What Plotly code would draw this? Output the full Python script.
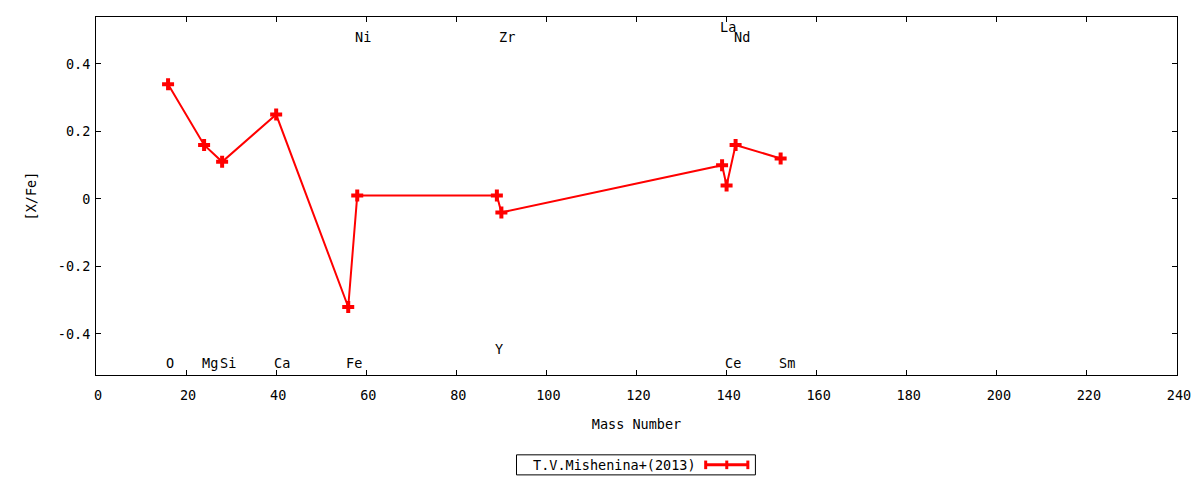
import plotly.graph_objects as go

# Abundance data (T.V.Mishenina+ 2013)
elements = ['O', 'Mg', 'Si', 'Ca', 'Fe', 'Ni', 'Y', 'Zr', 'La', 'Ce', 'Nd', 'Sm']
mass = [16, 24, 28, 40, 56, 58, 89, 90, 139, 140, 142, 152]
x_fe = [0.34, 0.16, 0.11, 0.25, -0.32, 0.01, 0.01, -0.04, 0.10, 0.04, 0.16, 0.12]

# Where each element name is written
label_y = [-0.485, -0.485, -0.485, -0.485, -0.485, 0.48, -0.445, 0.48, 0.51, -0.485, 0.48, -0.485]

mono = 'DejaVu Sans Mono'
fsize = 13.5
red = '#ff0000'

fig = go.Figure()
fig.add_trace(go.Scatter(
    x=mass, y=x_fe, mode='lines+markers', name='T.V.Mishenina+(2013)',
    line=dict(color=red, width=2),
    marker=dict(symbol='cross', size=10, color=red),
    showlegend=False))

for el, m, ly in zip(elements, mass, label_y):
    fig.add_annotation(x=m, y=ly, text=el, showarrow=False,
                       xanchor='left', xshift=-4,
                       font=dict(family=mono, size=fsize, color='black'))

# Legend box drawn by hand (gnuplot style: text, then line sample)
fig.add_shape(type='rect', xref='paper', yref='paper',
              x0=0.389, x1=0.610, y0=-0.279, y1=-0.223,
              line=dict(color='black', width=1), fillcolor='white')
fig.add_annotation(xref='paper', yref='paper', x=0.557, y=-0.251,
                   text='T.V.Mishenina+(2013)', showarrow=False,
                   xanchor='right', yanchor='middle',
                   font=dict(family=mono, size=fsize, color='black'))
fig.add_shape(type='line', xref='paper', yref='paper',
              x0=0.564, x1=0.603, y0=-0.251, y1=-0.251,
              line=dict(color=red, width=3))
for xp in (0.564, 0.5835, 0.603):
    fig.add_shape(type='line', xref='paper', yref='paper',
                  x0=xp, x1=xp, y0=-0.263, y1=-0.239,
                  line=dict(color=red, width=3))

axis_common = dict(showgrid=False, zeroline=False, showline=True, linecolor='black',
                   linewidth=1, mirror='ticks', ticks='inside', ticklen=5,
                   tickcolor='black', tickfont=dict(family=mono, size=fsize, color='black'))

fig.update_xaxes(range=[0, 240], dtick=20, ticklabelstandoff=8, ticklabelshift=2,
                 title=dict(text='Mass Number', standoff=17,
                            font=dict(family=mono, size=fsize, color='black')),
                 **axis_common)
fig.update_yaxes(range=[-0.5215, 0.539], tickvals=[-0.4, -0.2, 0, 0.2, 0.4],
                 ticktext=['-0.4', '-0.2', '0', '0.2', '0.4'], ticklabelstandoff=2,
                 title=dict(text='[X/Fe]', standoff=18,
                            font=dict(family=mono, size=fsize, color='black')),
                 **axis_common)

# the page sits 8px in from the window corner, margins make up for it
fig.update_layout(width=1200, height=480, plot_bgcolor='white', paper_bgcolor='white',
                  margin=dict(l=88, r=31, t=9, b=113),
                  font=dict(family=mono, size=fsize, color='black'))

fig.write_html('out.html')
